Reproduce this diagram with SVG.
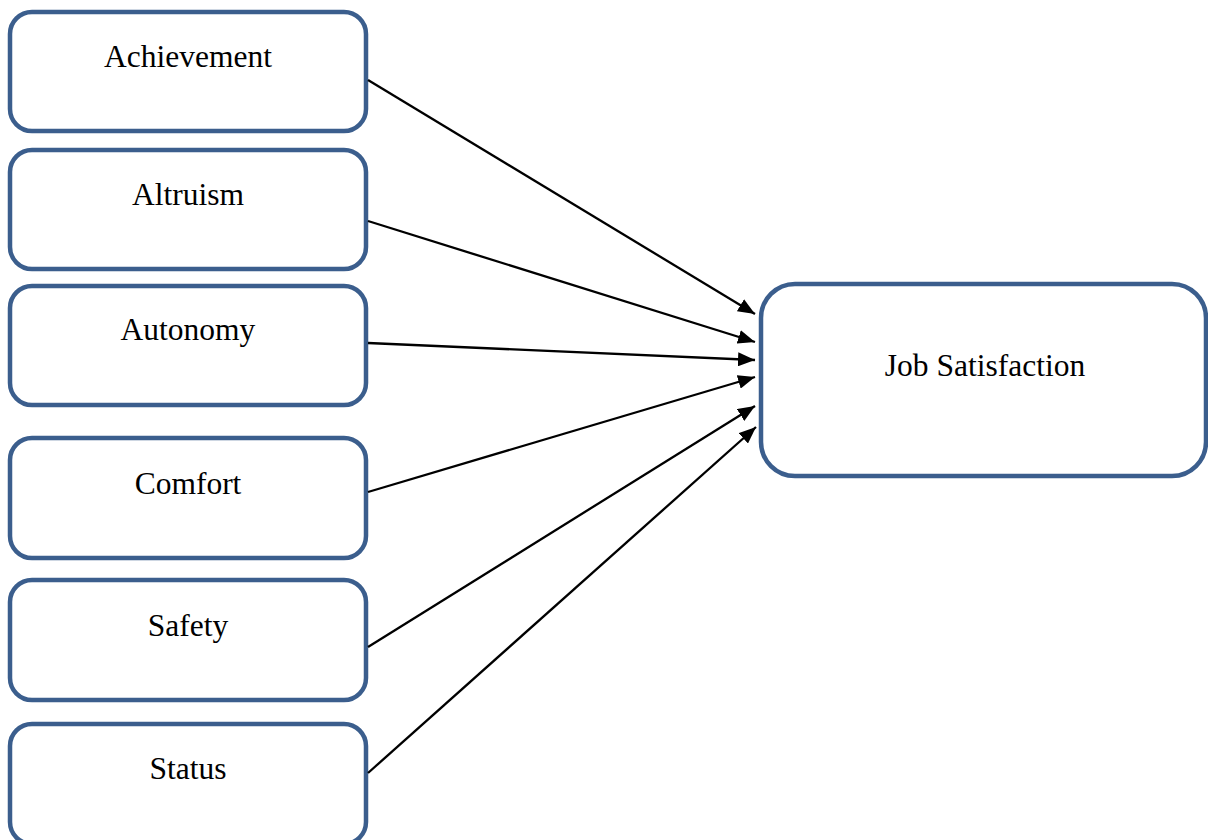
<svg xmlns="http://www.w3.org/2000/svg" width="1208" height="840" viewBox="0 0 1208 840">
<style>
.box{fill:#fff;stroke:#3b5e8d;stroke-width:4.5}
.lbl{font-family:"Liberation Serif","Times New Roman",serif;font-size:31.5px;fill:#000;text-anchor:middle}
.edge{stroke:#000;stroke-width:2.3;fill:none}
</style>
<defs>
<marker id="ah" markerUnits="userSpaceOnUse" markerWidth="18" markerHeight="14" refX="17" refY="7" orient="auto">
<path d="M0,0 L17,7 L0,14 Z" fill="#000"/>
</marker>
</defs>
<rect width="1208" height="840" fill="#fff"/>
<g id="n-achievement"><rect class="box" x="10" y="12" width="356" height="119" rx="22"/><text class="lbl" x="188" y="67">Achievement</text></g>
<g id="n-altruism"><rect class="box" x="10" y="150" width="356" height="119" rx="22"/><text class="lbl" x="188" y="205">Altruism</text></g>
<g id="n-autonomy"><rect class="box" x="10" y="286" width="356" height="119" rx="22"/><text class="lbl" x="188" y="340">Autonomy</text></g>
<g id="n-comfort"><rect class="box" x="10" y="438" width="356" height="120" rx="22"/><text class="lbl" x="188" y="494">Comfort</text></g>
<g id="n-safety"><rect class="box" x="10" y="580" width="356" height="120" rx="22"/><text class="lbl" x="188" y="636">Safety</text></g>
<g id="n-status"><rect class="box" x="10" y="724" width="356" height="120" rx="22"/><text class="lbl" x="188" y="779">Status</text></g>
<g id="n-job"><rect class="box" x="761" y="284" width="445" height="192" rx="34"/><text class="lbl" x="985" y="376">Job Satisfaction</text></g>
<g id="connectors">
<line class="edge" x1="368" y1="80" x2="755" y2="314" marker-end="url(#ah)"/>
<line class="edge" x1="368" y1="221" x2="755" y2="342" marker-end="url(#ah)"/>
<line class="edge" x1="368" y1="343" x2="755" y2="360" marker-end="url(#ah)"/>
<line class="edge" x1="368" y1="492" x2="755" y2="377" marker-end="url(#ah)"/>
<line class="edge" x1="368" y1="647" x2="755" y2="406" marker-end="url(#ah)"/>
<line class="edge" x1="368" y1="773" x2="756" y2="427" marker-end="url(#ah)"/>
</g>
</svg>
